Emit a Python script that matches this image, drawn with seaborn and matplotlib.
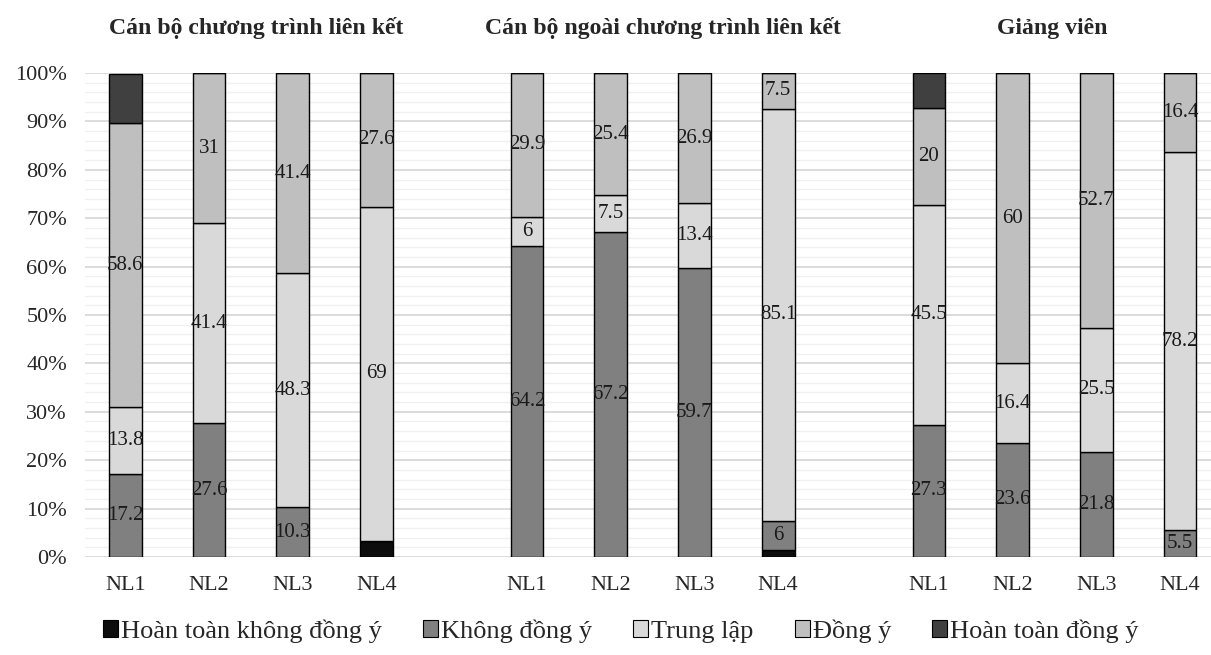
import matplotlib
matplotlib.use("Agg")
import matplotlib.pyplot as plt
import matplotlib.transforms as mtransforms
from matplotlib.patches import Patch
from matplotlib.ticker import MultipleLocator, PercentFormatter
import numpy as np
import seaborn as sns

# Respondent groups and competency items
groups = ["Cán bộ chương trình liên kết",
          "Cán bộ ngoài chương trình liên kết",
          "Giảng viên"]
items = ["NL1", "NL2", "NL3", "NL4"]

# Response levels (bottom to top of each bar)
levels = ["Hoàn toàn không đồng ý", "Không đồng ý", "Trung lập",
          "Đồng ý", "Hoàn toàn đồng ý"]

# Percentages per group, one list per level, ordered NL1..NL4
hoan_toan_khong_dong_y = [[0, 0, 0, 3.4], [0, 0, 0, 1.5], [0, 0, 0, 0]]
khong_dong_y = [[17.2, 27.6, 10.3, 0], [64.2, 67.2, 59.7, 6], [27.3, 23.6, 21.8, 5.5]]
trung_lap = [[13.8, 41.4, 48.3, 69], [6, 7.5, 13.4, 85.1], [45.5, 16.4, 25.5, 78.2]]
dong_y = [[58.6, 31, 41.4, 27.6], [29.9, 25.4, 26.9, 7.5], [20, 60, 52.7, 16.4]]
hoan_toan_dong_y = [[10.3, 0, 0, 0], [0, 0, 0, 0], [7.3, 0, 0, 0]]

series = [hoan_toan_khong_dong_y, khong_dong_y, trung_lap, dong_y, hoan_toan_dong_y]
colors = ["#0d0d0d", "#808080", "#d9d9d9", "#bfbfbf", "#404040"]
labelled = [False, True, True, True, False]

sns.set_theme(style="white")
plt.rcParams["font.family"] = ["Liberation Serif", "DejaVu Serif"]

fig = plt.figure(figsize=(12.11, 6.55), dpi=100)
ax = fig.add_axes([0.0702, 0.1496, 0.9298, 0.7389])

group_step = 4.8
bar_width = 0.39
positions = np.array([[g * group_step + i for i in range(len(items))]
                      for g in range(len(groups))])

bottoms = np.zeros((len(groups), len(items)))
for vals, color, show in zip(series, colors, labelled):
    vals = np.array(vals, dtype=float)
    for g in range(len(groups)):
        ax.bar(positions[g], vals[g], bottom=bottoms[g], width=bar_width,
               color=color, edgecolor="black", linewidth=1.0, zorder=3)
        if show:
            for x, v, b in zip(positions[g], vals[g], bottoms[g]):
                if v > 0:
                    ax.text(x, b + v / 2, f"{v:g}", ha="center", va="center",
                            fontsize=15, color="#1a1a1a", zorder=4)
    bottoms += vals

ax.set_ylim(0, 100)
ax.set_xlim(-0.48, positions[-1, -1] + 0.37)
ax.yaxis.set_major_locator(MultipleLocator(10))
ax.yaxis.set_minor_locator(MultipleLocator(2))
ax.yaxis.set_major_formatter(PercentFormatter(decimals=0))
ax.grid(axis="y", which="major", color="#d9d9d9", linewidth=1.3, zorder=0)
ax.grid(axis="y", which="minor", color="#f0f0f0", linewidth=1.0, zorder=0)
ax.set_axisbelow(True)
for side in ["left", "right", "top", "bottom"]:
    ax.spines[side].set_visible(False)

ax.set_xticks(positions.ravel())
ax.set_xticklabels(items * len(groups))
ax.tick_params(axis="x", length=0, pad=14, labelsize=16)
ax.tick_params(axis="y", which="both", length=0, pad=13, labelsize=16)

# Group headings above each block of bars
title_tf = mtransforms.blended_transform_factory(ax.transData, ax.transAxes)
title_shift = [0.07, 0.12, -0.03]
for g, name in enumerate(groups):
    ax.text(positions[g].mean() + title_shift[g], 1.093, name, transform=title_tf,
            ha="center", va="center", fontsize=17.1, fontweight="bold")

handles = [Patch(facecolor=c, edgecolor="black", linewidth=0.8) for c in colors]
fig.legend(handles, levels, loc="center left", bbox_to_anchor=(0.085, 0.0366),
           ncol=5, frameon=False, fontsize=19, handlelength=0.57,
           handleheight=0.57, handletextpad=0.12, columnspacing=1.55,
           borderpad=0, borderaxespad=0)

fig.savefig("out.png", dpi=100)
